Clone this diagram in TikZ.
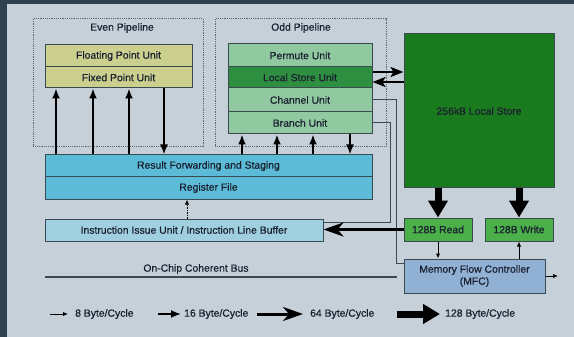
\documentclass[tikz,border=0pt]{standalone}
\usepackage{fontspec}
\setmainfont[FakeBold=0.5]{Liberation Sans}
\newfontfamily\diagfont[FakeBold=0.5]{Liberation Sans}
\usetikzlibrary{arrows.meta}
\definecolor{outerc}{HTML}{2F4050}
\definecolor{panelc}{HTML}{C6D0D9}
\definecolor{bordc}{HTML}{3A4A50}
\definecolor{yelc}{HTML}{CBD08E}
\definecolor{mintc}{HTML}{90C8A0}
\definecolor{lsuc}{HTML}{2F8F40}
\definecolor{lsc}{HTML}{1A7A1E}
\definecolor{rwc}{HTML}{4CB04A}
\definecolor{rfc}{HTML}{5CBCD8}
\definecolor{iiuc}{HTML}{A0CFE0}
\definecolor{mfcc}{HTML}{90B0D4}
\definecolor{txtc}{HTML}{1A2030}
\definecolor{dotc}{HTML}{5E6870}
\begin{document}
\begin{tikzpicture}[x=1pt,y=-1pt,
  font=\diagfont\fontsize{10.4}{12}\selectfont, text=txtc,
  box/.style={draw=bordc, line width=1pt, inner sep=0pt, anchor=center, align=center},
  pipebox/.style={draw=dotc, line width=1pt, dash pattern=on 1.3pt off 0.9pt},
  conn/.style={draw=bordc, line width=1pt},
  a8/.style={draw=black, line width=1pt, -{Latex[length=5pt,width=4.5pt]}},
  a16/.style={draw=black, line width=1.8pt, -{Latex[length=10pt,width=8pt]}},
  alsu/.style={draw=black, line width=2pt, -{Stealth[length=13pt,width=10pt,inset=3pt]}},
  a64/.style={draw=black, line width=3pt, -{Stealth[length=20pt,width=14pt,inset=6pt]}},
  a128/.style={draw=black, line width=7pt, -{Triangle[length=17pt,width=19pt]}},
  lbl/.style={anchor=west, inner sep=0pt}
]
\useasboundingbox (0,0) rectangle (574,337);
\fill[outerc] (0,0) rectangle (574,337);
\fill[panelc] (7,4) rectangle (574,337);

% pipeline groups
\draw[pipebox] (33,19) rectangle (203,147);
\draw[pipebox] (215,19) rectangle (386,147);
\node (evenlbl) at (122,28) {Even Pipeline};
\node (oddlbl) at (301,28) {Odd Pipeline};

% even pipeline units
\node[box, fill=yelc, minimum width=147, minimum height=22] (fpu) at (118.5,56) {Floating Point Unit};
\node[box, fill=yelc, minimum width=147, minimum height=21] (fxu) at (118.5,77.5) {Fixed Point Unit};

% odd pipeline units
\node[box, fill=mintc, minimum width=144, minimum height=23] (perm) at (300,55.5) {Permute Unit};
\node[box, fill=lsuc, minimum width=144, minimum height=21] (lsu) at (300,77.5) {Local Store Unit};
\node[box, fill=mintc, minimum width=144, minimum height=24] (chan) at (300,100) {Channel Unit};
\node[box, fill=mintc, minimum width=144, minimum height=22] (bru) at (300,123) {Branch Unit};

% register/forwarding
\node[box, fill=rfc, minimum width=327, minimum height=22] (rfs) at (208.5,166) {Result Forwarding and Staging};
\node[box, fill=rfc, minimum width=327, minimum height=22] (reg) at (208.5,188) {Register File};
\node[box, fill=iiuc, minimum width=278, minimum height=22] (iiu) at (184,230) {Instruction Issue Unit / Instruction Line Buffer};

% local store and MFC
\node[box, fill=lsc, minimum width=150, minimum height=154] (ls) at (479,111) {256kB Local Store};
\node[box, fill=rwc, minimum width=68, minimum height=23] (rd) at (438,229.5) {128B Read};
\node[box, fill=rwc, minimum width=68, minimum height=23] (wr) at (519,229.5) {128B Write};
\node[box, fill=mfcc, minimum width=141, minimum height=34] (mfc) at (474.5,276) {Memory Flow Controller\\(MFC)};

% coordinates
\coordinate (e1) at (56,0);
\coordinate (e2) at (93,0);
\coordinate (e3) at (129,0);
\coordinate (e4) at (164,0);
\coordinate (o1) at (242,0);
\coordinate (o2) at (277,0);
\coordinate (o3) at (313,0);
\coordinate (o4) at (350,0);
\coordinate (r1) at (0,72);
\coordinate (r2) at (0,82);
\coordinate (dd) at (187,0);
\coordinate (cc) at (396,263);
\coordinate (bc) at (390,222);
\coordinate (mo) at (558,276);
\coordinate (bus1) at (45,277);
\coordinate (bus2) at (397,277);

% even pipeline arrows
\draw[a16] (e1 |- rfs.north) -- (e1 |- fxu.south);
\draw[a16] (e2 |- rfs.north) -- (e2 |- fxu.south);
\draw[a16] (e3 |- rfs.north) -- (e3 |- fxu.south);
\draw[a16] (e4 |- fxu.south) -- (e4 |- rfs.north);

% odd pipeline arrows
\draw[a16] (o1 |- rfs.north) -- (o1 |- bru.south);
\draw[a16] (o2 |- rfs.north) -- (o2 |- bru.south);
\draw[a16] (o3 |- rfs.north) -- (o3 |- bru.south);
\draw[a16] (o4 |- bru.south) -- (o4 |- rfs.north);

% local store unit <-> local store
\draw[alsu] (lsu.east |- r1) -- (ls.west |- r1);
\draw[alsu] (ls.west |- r2) -- (lsu.east |- r2);

% channel and branch connections
\draw[conn] (chan.east) -| (cc) -- (mfc.west |- cc);
\draw[conn] (bru.east) -| (bc) -- (iiu.east |- bc);

% issue unit to register file
\draw[a8, dash pattern=on 1.5pt off 1pt] (dd |- iiu.north) -- (dd |- reg.south);

% local store to read/write
\draw[a128] (ls.south -| rd.north) -- (rd.north);
\draw[a128] (ls.south -| wr.north) -- (wr.north);

% read to issue unit
\draw[a64] (rd.west) -- (iiu.east |- rd.west);

% read/write and MFC
\draw[a8] (rd.south) -- (mfc.north -| rd.south);
\draw[a8] (mfc.north -| wr.south) -- (wr.south);
\draw[a8] (mfc.east) -- (mo);

% on-chip bus
\draw[draw=bordc, line width=1.2pt] (bus1) -- (bus2);
\node (buslbl) at (196,269) {On-Chip Coherent Bus};

% legend
\coordinate (l1a) at (50,314);  \coordinate (l1b) at (68,314);
\coordinate (l2a) at (158,314); \coordinate (l2b) at (181,314);
\coordinate (l3a) at (257,314); \coordinate (l3b) at (303,314);
\coordinate (l4a) at (397,314); \coordinate (l4b) at (440,314);
\draw[a8] (l1a) -- (l1b);
\draw[a16] (l2a) -- (l2b);
\draw[a64] (l3a) -- (l3b);
\draw[a128] (l4a) -- (l4b);
\node[lbl] (t1) at (75,314) {8 Byte/Cycle};
\node[lbl] (t2) at (184,314) {16 Byte/Cycle};
\node[lbl] (t3) at (310,314) {64 Byte/Cycle};
\node[lbl] (t4) at (445,314) {128 Byte/Cycle};
\end{tikzpicture}
\end{document}
